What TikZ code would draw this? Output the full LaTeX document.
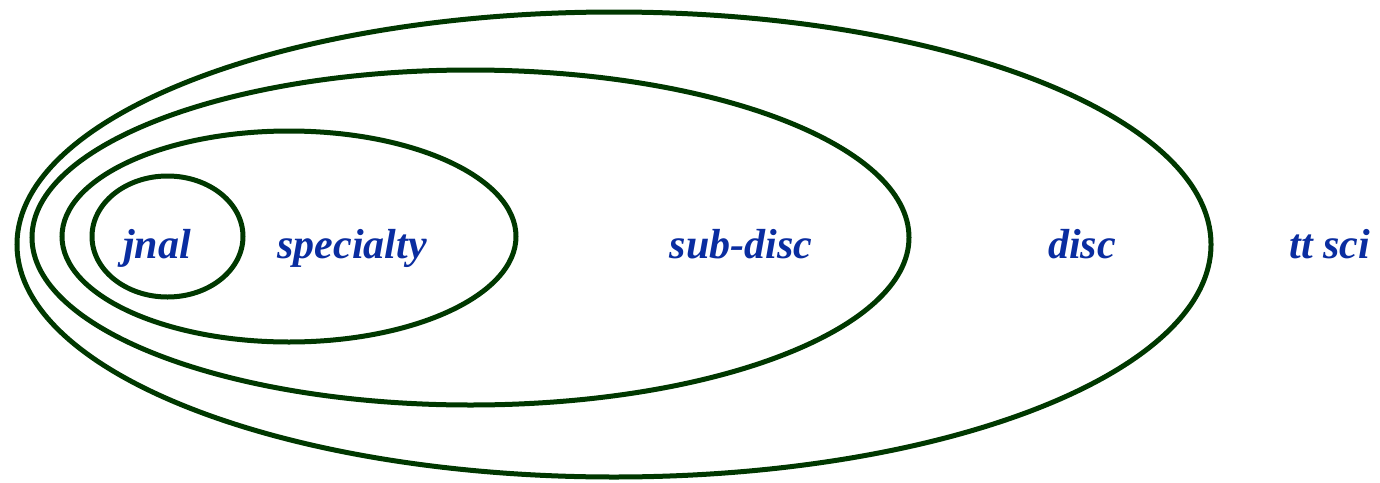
\documentclass[tikz,border=0pt]{standalone}
\usepackage{fontspec}
\setmainfont{Liberation Serif}
\definecolor{ringgreen}{RGB}{0,56,0}
\definecolor{labelblue}{RGB}{10,45,160}
\tikzset{
  ring/.style={draw=ringgreen, line width=5pt},
  lbl/.style={anchor=base, inner sep=0pt, text=labelblue, font=\fontsize{42}{42}\selectfont\bfseries\itshape}
}
\begin{document}
\begin{tikzpicture}[x=1pt,y=-1pt]
\useasboundingbox (0,0) rectangle (1380,482);
\draw[ring] (614,244.5) ellipse [x radius=597, y radius=232.5];
\draw[ring] (470.5,237.5) ellipse [x radius=438.5, y radius=167.5];
\draw[ring] (289,236.5) ellipse [x radius=227, y radius=105.5];
\draw[ring] (167.5,236.5) ellipse [x radius=75.5, y radius=60.5];
\node[lbl] (jnal) at (157,258) {jnal};
\node[lbl] (specialty) at (352,258) {specialty};
\node[lbl] (subdisc) at (741,258) {sub-disc};
\node[lbl] (disc) at (1082,258) {disc};
\node[lbl] (ttsci) at (1330,258) {tt sci};
\end{tikzpicture}
\end{document}
